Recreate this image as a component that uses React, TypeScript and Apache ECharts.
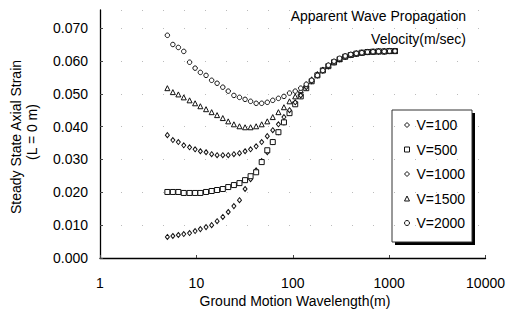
import React, { useEffect, useRef } from "react";
import * as echarts from "echarts";

const wavelengths = [5, 5.7, 6.5, 7.4, 8.5, 9.7, 11, 12.6, 14.4, 16.4, 18.8, 21.4, 24.5, 28, 32, 36.5, 41.7, 47.6, 54.4, 62, 71, 81, 92.5, 106, 121, 138, 157, 180, 205, 234, 268, 306, 350, 400, 456, 521, 595, 680, 777, 888, 1010, 1150];

const v100 = [0.0064, 0.0067, 0.0070, 0.0073, 0.0076, 0.0082, 0.0088, 0.0094, 0.0100, 0.0112, 0.0125, 0.0140, 0.0158, 0.0176, 0.0210, 0.0240, 0.0267, 0.0295, 0.0322, 0.0353, 0.0383, 0.0413, 0.0444, 0.0471, 0.0495, 0.0520, 0.0541, 0.0559, 0.0571, 0.0584, 0.0596, 0.0605, 0.0613, 0.0618, 0.0622, 0.0625, 0.0627, 0.0628, 0.0629, 0.0629, 0.0630, 0.0630];
const v500 = [0.0201, 0.0201, 0.0201, 0.0198, 0.0198, 0.0198, 0.0198, 0.0201, 0.0204, 0.0207, 0.0210, 0.0216, 0.0222, 0.0228, 0.0237, 0.0249, 0.0261, 0.0292, 0.0328, 0.0353, 0.0383, 0.0413, 0.0441, 0.0468, 0.0492, 0.0517, 0.0538, 0.0556, 0.0571, 0.0584, 0.0596, 0.0605, 0.0613, 0.0618, 0.0622, 0.0625, 0.0627, 0.0628, 0.0629, 0.0629, 0.0630, 0.0630];
const v1000 = [0.0374, 0.0359, 0.0353, 0.0343, 0.0337, 0.0331, 0.0325, 0.0322, 0.0316, 0.0313, 0.0313, 0.0313, 0.0316, 0.0319, 0.0325, 0.0331, 0.0340, 0.0353, 0.0371, 0.0389, 0.0407, 0.0429, 0.0450, 0.0474, 0.0495, 0.0520, 0.0538, 0.0556, 0.0571, 0.0584, 0.0596, 0.0605, 0.0613, 0.0618, 0.0622, 0.0625, 0.0627, 0.0628, 0.0629, 0.0629, 0.0630, 0.0630];
const v1500 = [0.0517, 0.0505, 0.0498, 0.0489, 0.0480, 0.0471, 0.0462, 0.0453, 0.0444, 0.0435, 0.0426, 0.0416, 0.0407, 0.0401, 0.0398, 0.0398, 0.0401, 0.0407, 0.0416, 0.0429, 0.0444, 0.0459, 0.0477, 0.0492, 0.0511, 0.0529, 0.0544, 0.0559, 0.0574, 0.0587, 0.0596, 0.0606, 0.0614, 0.0619, 0.0623, 0.0625, 0.0627, 0.0628, 0.0629, 0.0629, 0.0630, 0.0630];
const v2000 = [0.0678, 0.0650, 0.0641, 0.0629, 0.0596, 0.0578, 0.0565, 0.0556, 0.0541, 0.0532, 0.0520, 0.0508, 0.0495, 0.0489, 0.0483, 0.0477, 0.0471, 0.0471, 0.0474, 0.0480, 0.0486, 0.0492, 0.0502, 0.0508, 0.0517, 0.0529, 0.0541, 0.0556, 0.0571, 0.0587, 0.0599, 0.0608, 0.0615, 0.0620, 0.0623, 0.0625, 0.0627, 0.0628, 0.0629, 0.0629, 0.0630, 0.0630];

const seriesNames = ["V=100", "V=500", "V=1000", "V=1500", "V=2000"];
const xTicks = [1, 10, 100, 1000, 10000];

const FONT = "'Liberation Sans', Arial, sans-serif";

export default function App() {
  const ref = useRef<HTMLDivElement>(null);
  useEffect(() => {
    const chart = echarts.init(ref.current!, null, { renderer: "svg" });
    const mk = (name: string, vals: number[], symbol: string, size: any) => ({
      name,
      type: "scatter",
      data: wavelengths.map((w, i) => [w, vals[i]]),
      symbol,
      symbolSize: size,
      itemStyle: { color: "#fff", borderColor: "#111", borderWidth: 1, opacity: 1 },
      emphasis: { disabled: true },
    });
    const txt = (text: string, x: number, y: number, align: string, rotation = 0) => ({
      type: "text",
      x,
      y,
      rotation,
      style: {
        text,
        fill: "#000",
        font: `14px ${FONT}`,
        fontSize: 14,
        fontFamily: FONT,
        align,
        textAlign: align,
        verticalAlign: "middle",
        textVerticalAlign: "middle",
      },
    });
    chart.setOption({
      animation: false,
      grid: { left: 100, right: 20, top: 10, bottom: 68 },
      xAxis: {
        type: "log",
        logBase: 10,
        min: xTicks[0],
        max: xTicks[xTicks.length - 1],
        axisLine: { show: true, lineStyle: { color: "#000", width: 1.3 } },
        axisTick: { show: true, inside: true, length: 3, lineStyle: { color: "#444" } },
        splitLine: { show: false },
        minorTick: { show: false },
        axisLabel: {
          margin: 18,
          color: "#000",
          fontSize: 14,
          fontFamily: FONT,
          formatter: (v: number) => String(Math.round(v)),
        },
      },
      yAxis: {
        type: "value",
        min: 0,
        max: 0.0755,
        interval: 0.01,
        axisLine: { show: true, lineStyle: { color: "#000", width: 1.3 } },
        axisTick: { show: true, inside: true, length: 3, lineStyle: { color: "#444" } },
        splitLine: { show: true, lineStyle: { color: "#bbb", type: [1, 20], width: 1 } },
        axisLabel: {
          margin: 12,
          color: "#000",
          fontSize: 14,
          fontFamily: FONT,
          showMaxLabel: false,
          formatter: (v: number) => {
            const k = Math.round(v * 100);
            return Math.abs(v * 100 - k) < 1e-6 ? v.toFixed(3) : "";
          },
        },
      },
      legend: {
        orient: "vertical",
        left: 404,
        top: 118,
        padding: 0,
        itemWidth: 5,
        itemHeight: 5,
        itemGap: 10.5,
        data: seriesNames,
        selectedMode: false,
        itemStyle: { color: "#fff", borderColor: "#111", borderWidth: 1 },
        textStyle: { fontSize: 14, lineHeight: 14, color: "#000", fontFamily: FONT, padding: [0, 0, 0, 2] },
      },
      graphic: [
        { type: "rect", shape: { x: 395, y: 113, width: 80, height: 132 }, style: { fill: "#000" }, z: -2 },
        { type: "rect", shape: { x: 392, y: 110, width: 80, height: 132 }, style: { fill: "#fff", stroke: "#333", lineWidth: 1 }, z: -1 },
        txt("Apparent Wave Propagation", 466, 16, "right"),
        txt("Velocity(m/sec)", 466, 39, "right"),
        txt("Ground Motion Wavelength(m)", 295, 301, "center"),
        txt("Steady State Axial Strain", 16, 137, "center", Math.PI / 2),
        txt("(L = 0 m)", 32, 132, "center", Math.PI / 2),
      ],
      series: [
        mk(seriesNames[0], v100, "diamond", [4, 5]),
        mk(seriesNames[1], v500, "rect", 5),
        mk(seriesNames[2], v1000, "diamond", [4, 5]),
        mk(seriesNames[3], v1500, "triangle", 5),
        mk(seriesNames[4], v2000, "circle", 4.5),
      ],
    });
    return () => chart.dispose();
  }, []);
  return <div ref={ref} style={{ position: "absolute", left: 0, top: 0, width: 508, height: 326 }} />;
}
